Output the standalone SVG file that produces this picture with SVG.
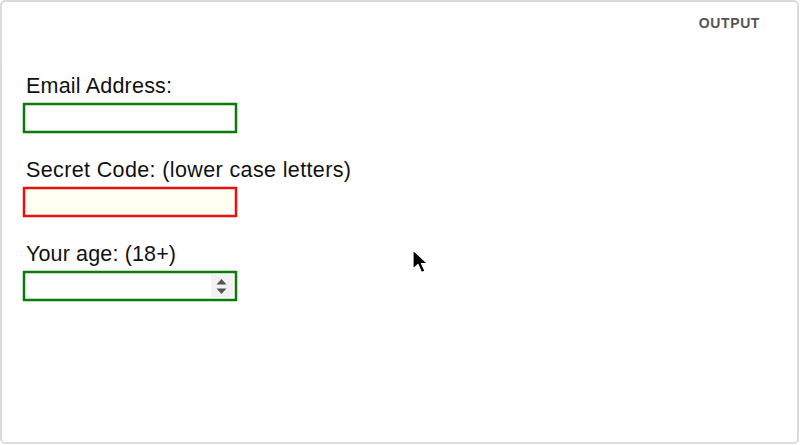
<svg xmlns="http://www.w3.org/2000/svg" width="800" height="445" viewBox="0 0 800 445">
<style>
.lbl{font-family:"Liberation Sans",Arial,sans-serif;font-size:21.5px;fill:#111}
.box{stroke-width:2.5}
</style>
<rect x="1" y="1" width="797" height="442" rx="4" fill="#fff" stroke="#cfcfcf" stroke-width="1.5"/>
<text x="760" y="28" text-anchor="end" font-family="Liberation Sans,Arial,sans-serif" font-size="14" font-weight="bold" fill="#555" letter-spacing="0.6">OUTPUT</text>
<g id="email">
<text class="lbl" x="26" y="93" textLength="146">Email Address:</text>
<rect class="box" x="24" y="104" width="212" height="28" fill="#fff" stroke="#0a7a0a"/>
</g>
<g id="secret">
<text class="lbl" x="26" y="177" textLength="325">Secret Code: (lower case letters)</text>
<rect class="box" x="24" y="188" width="212" height="28" fill="#fffff2" stroke="#e81010"/>
</g>
<g id="age">
<text class="lbl" x="26" y="261" textLength="150">Your age: (18+)</text>
<rect class="box" x="24" y="272" width="212" height="28" fill="#fff" stroke="#0a7a0a"/>
<rect x="211" y="275" width="22" height="22" fill="#f2f2f2"/>
<polygon points="221.5,279 216.5,284.5 226.5,284.5" fill="#555"/>
<polygon points="221.5,294 216.5,288.5 226.5,288.5" fill="#555"/>
</g>
<g id="cursor">
<polygon points="413,250 413,269 418,264.5 421.5,272.5 425,271 421.5,263.5 427.5,263.5" fill="#000" stroke="#fff" stroke-width="1.2" stroke-linejoin="round"/>
</g>
<g id="connectors"/>
</svg>
